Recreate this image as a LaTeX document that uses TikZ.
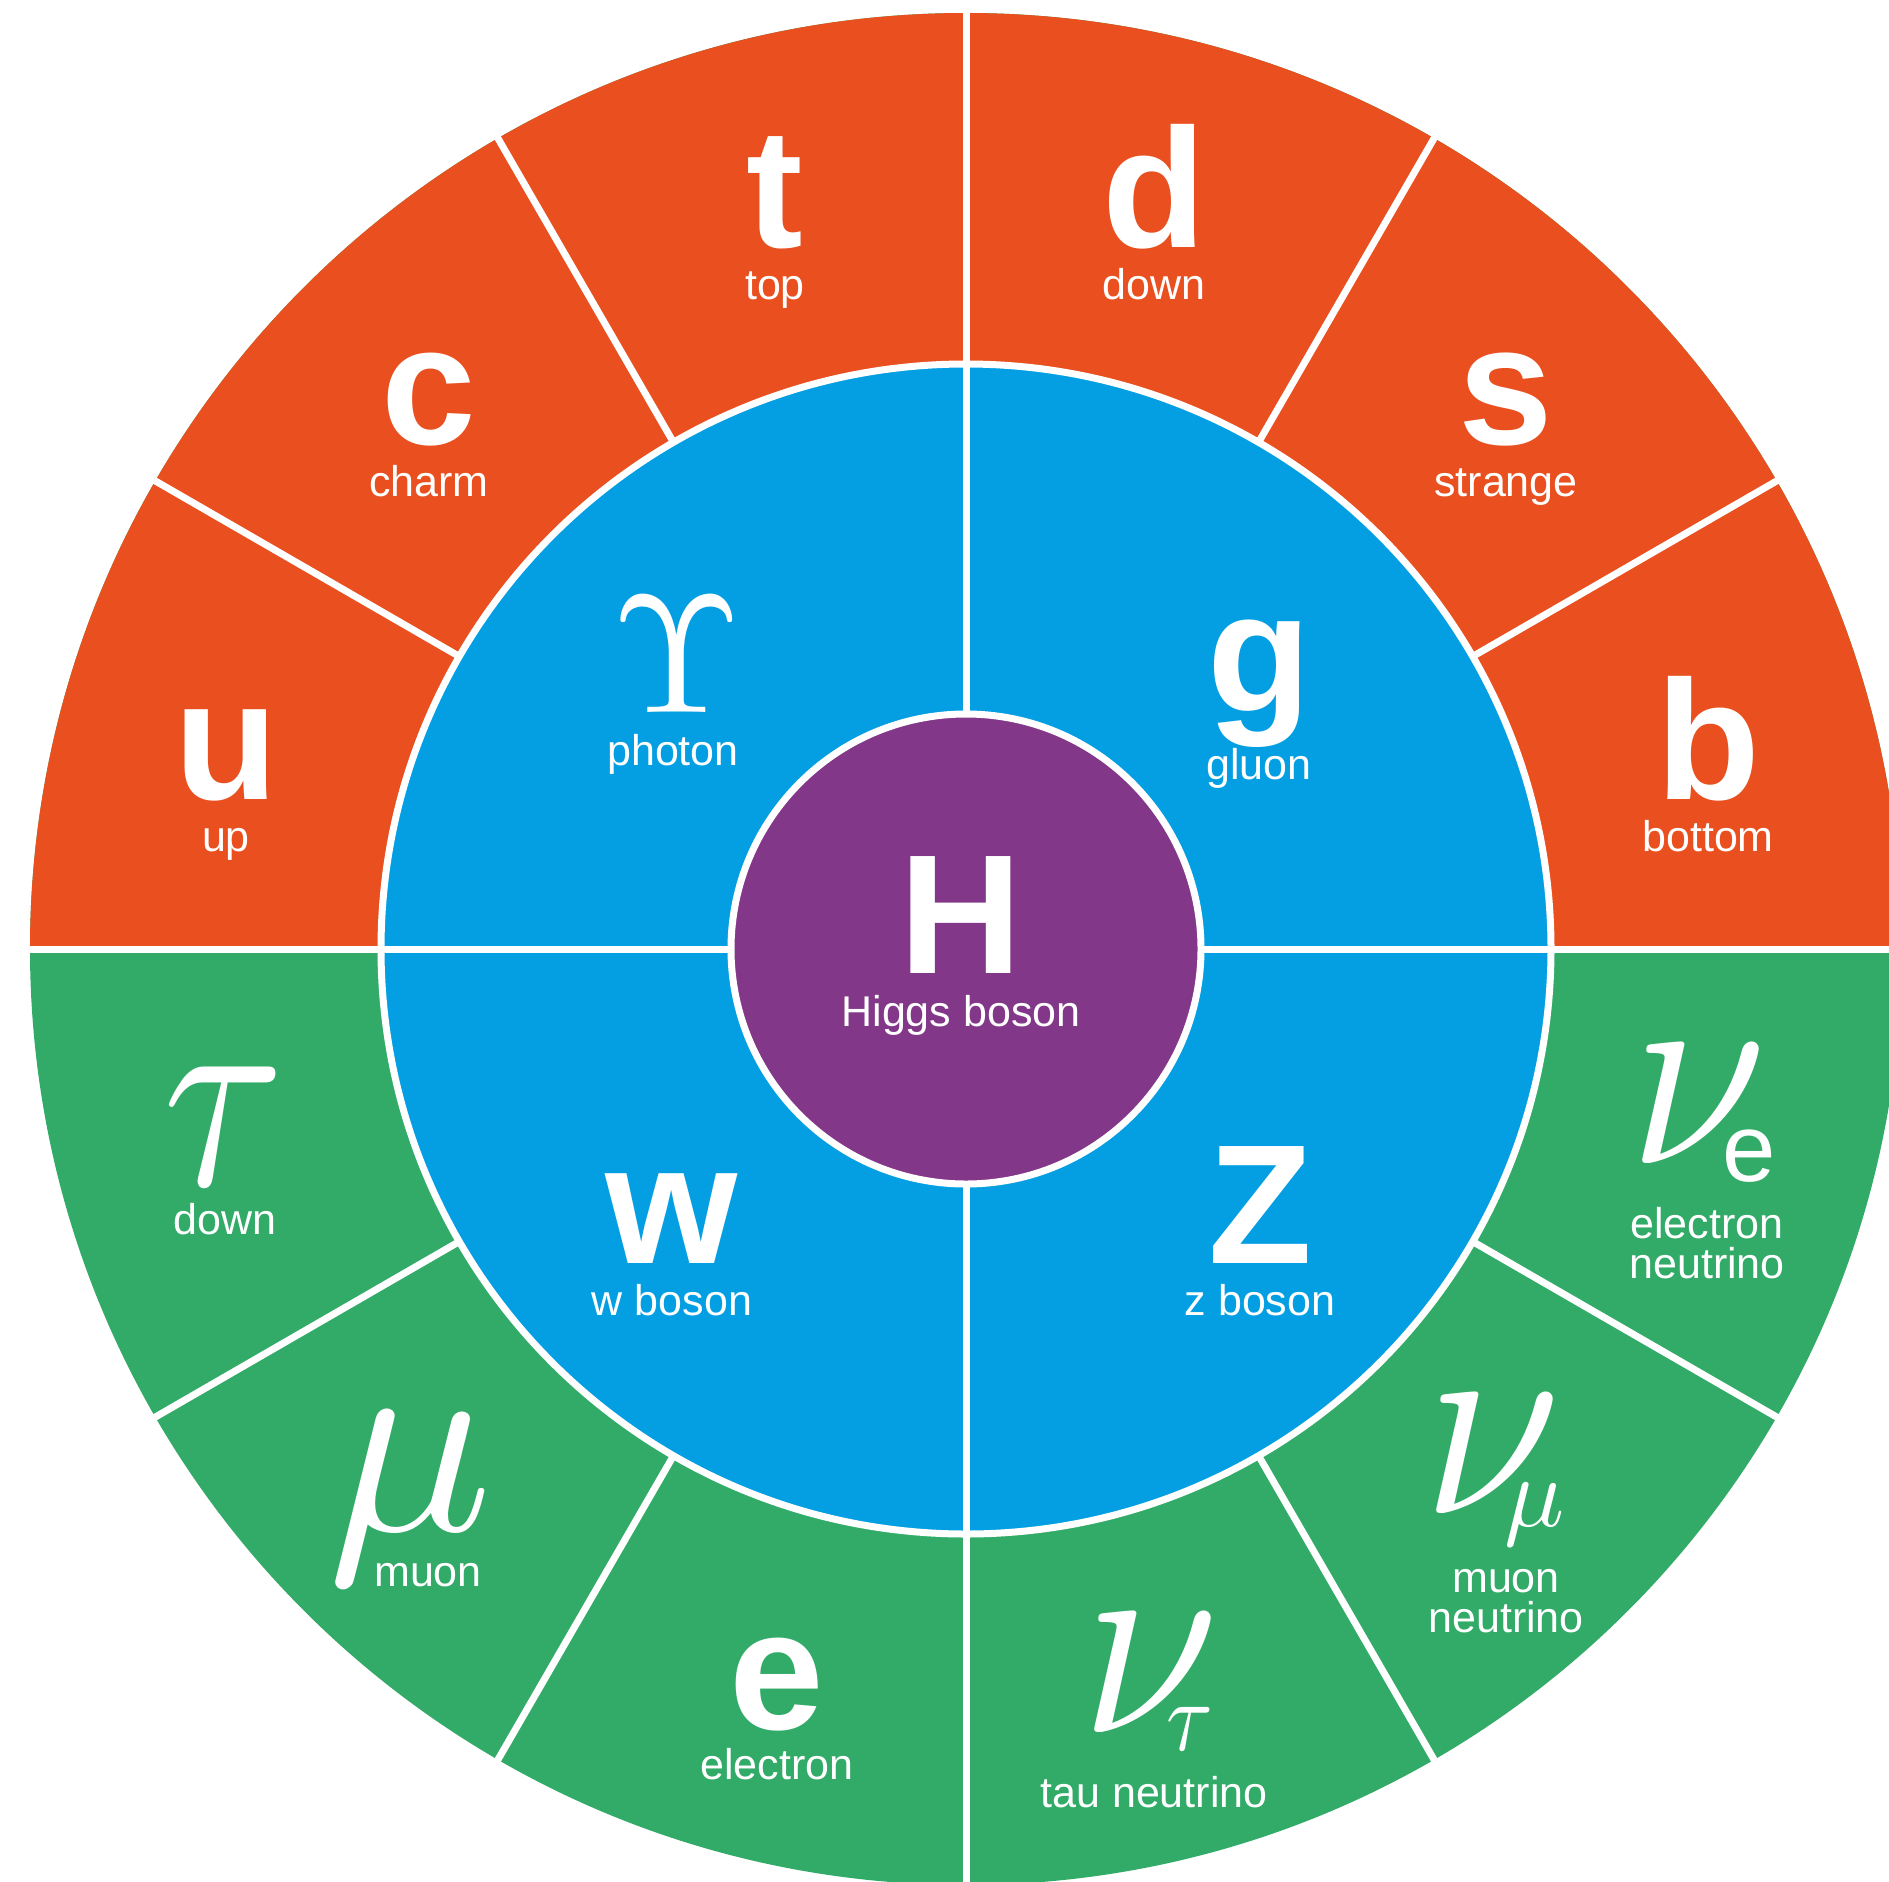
\documentclass[tikz,border=0pt]{standalone}
\usepackage{fontspec}
\setmainfont{Liberation Sans}
\definecolor{qorange}{RGB}{233,79,31}
\definecolor{qblue}{RGB}{3,159,226}
\definecolor{qpurple}{RGB}{131,55,137}
\definecolor{qgreen}{RGB}{50,171,104}
\begin{document}
\begin{tikzpicture}[x=1pt,y=-1pt,
  sep/.style={draw=white,line width=7pt},
  big/.style={text=white,inner sep=0pt,anchor=base,font=\fontsize{170}{170}\selectfont\bfseries},
  lbl/.style={text=white,inner sep=0pt,anchor=base,font=\fontsize{43}{41}\selectfont},
  grk/.style={text=white,inner sep=0pt,anchor=base,font=\fontsize{10}{10}\selectfont,scale=27.5,transform shape},
  grkup/.style={text=white,inner sep=0pt,anchor=base,font=\fontsize{10}{10}\selectfont,scale=16.8,transform shape},
  subs/.style={text=white,inner sep=0pt,anchor=base,font=\fontsize{96}{96}\selectfont},
  subg/.style={text=white,inner sep=0pt,anchor=base,font=\fontsize{10}{10}\selectfont,scale=10,transform shape}]
\useasboundingbox (0,0) rectangle (1889,1881);
\clip (0,0) rectangle (1889,1881);
\begin{scope}[shift={(966,949)}]
  \fill[qgreen] (0,0) circle (936);
  \begin{scope}
    \clip (-1000,-1000) rectangle (1000,0);
    \fill[qorange] (0,0) circle (936);
  \end{scope}
  \fill[qblue] (0,0) circle (585);
  \fill[qpurple] (0,0) circle (235);
  \draw[sep] (0,0) circle (585);
  \draw[sep] (0,0) circle (235);
  \foreach \a in {30,60,120,150,210,240,300,330} \draw[sep] (\a:585) -- (\a:960);
  \foreach \a in {0,90,180,270} \draw[sep] (\a:235) -- (\a:960);
\end{scope}
% quarks
\node[big] (t) at (775,247) {t};
\node[lbl] (tl) at (775,299) {top};
\node[big] (d) at (1154,247) {d};
\node[lbl] (dl) at (1154,299) {down};
\node[big] (c) at (429,444) {c};
\node[lbl] (cl) at (429,496) {charm};
\node[big] (s) at (1506,444) {s};
\node[lbl] (sl) at (1506,496) {strange};
\node[big] (u) at (226,799) {u};
\node[lbl] (ul) at (226,851) {up};
\node[big] (b) at (1708,799) {b};
\node[lbl] (bl) at (1708,851) {bottom};
% bosons
\node[grkup] (ph) at (677,712) {$\Upsilon$};
\node[lbl] (phl) at (673,765) {photon};
\node[big] (g) at (1259,711) {g};
\node[lbl] (gl) at (1259,779) {gluon};
\node[big] (H) at (961,973) {H};
\node[lbl] (Hl) at (961,1026) {Higgs boson};
\node[big] (w) at (672,1263) {w};
\node[lbl] (wl) at (672,1315) {w boson};
\node[big] (Z) at (1260,1263) {Z};
\node[lbl] (Zl) at (1260,1315) {z boson};
% leptons
\node[grk,xscale=0.8] (tau) at (224,1185) {$\tau$};
\node[lbl] (taul) at (225,1234) {down};
\node[grk] (mu) at (410,1530) {$\mu$};
\node[lbl] (mul) at (428,1586) {muon};
\node[big] (e) at (777,1729) {e};
\node[lbl] (el) at (777,1779) {electron};
\node[grk,xscale=0.9] (nt) at (1150,1732) {$\nu$};
\node[subg,xscale=0.85] (ntsub) at (1190,1750) {$\tau$};
\node[lbl] (ntl) at (1154,1807) {tau neutrino};
\node[grk,xscale=0.9] (nm) at (1492,1513) {$\nu$};
\node[subg] (nmsub) at (1535,1526) {$\mu$};
\node[lbl] (nml1) at (1506,1592) {muon};
\node[lbl] (nml2) at (1506,1632) {neutrino};
\node[grk,xscale=0.9] (ne) at (1698,1163) {$\nu$};
\node[subs] (nesub) at (1749,1181) {e};
\node[lbl] (nel1) at (1707,1238) {electron};
\node[lbl] (nel2) at (1707,1278) {neutrino};
\end{tikzpicture}
\end{document}
